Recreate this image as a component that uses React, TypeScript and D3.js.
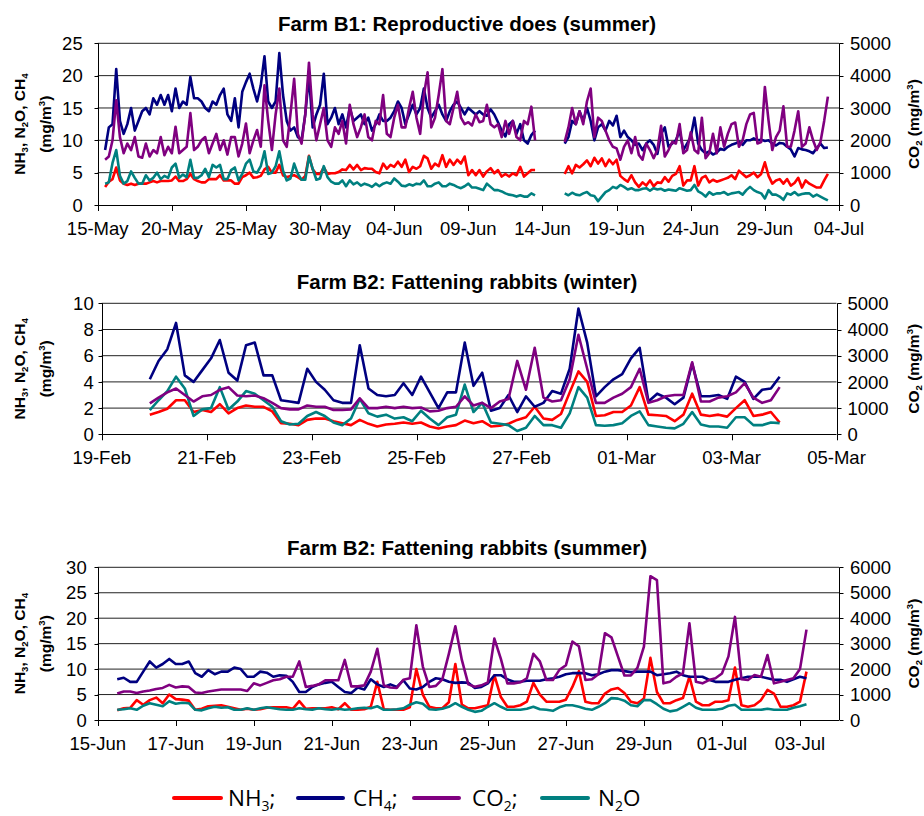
import React from "react";
import * as d3 from "d3";

const YEAR = 2009;
const FONT = "'Liberation Sans', Arial, Helvetica, sans-serif";
const LEGEND_FONT = "'Open Sans', 'Noto Sans', sans-serif";

const C_NH3 = "#ff0000";
const C_CH4 = "#000080";
const C_CO2 = "#800080";
const C_N2O = "#008080";

// ---------------- Panel 1: Farm B1, reproductive does (summer) ----------------
const B1_TITLE = "Farm B1: Reproductive does (summer)";
const B1_START = new Date(YEAR, 4, 15, 12);
const B1_STEP_H = 6;
const B1_X_DOMAIN = [new Date(YEAR, 4, 15), new Date(YEAR, 6, 4)];
const B1_X_TICKS = [
  new Date(YEAR, 4, 15), new Date(YEAR, 4, 20), new Date(YEAR, 4, 25), new Date(YEAR, 4, 30),
  new Date(YEAR, 5, 4), new Date(YEAR, 5, 9), new Date(YEAR, 5, 14), new Date(YEAR, 5, 19),
  new Date(YEAR, 5, 24), new Date(YEAR, 5, 29), new Date(YEAR, 6, 4),
];
const B1_Y_TICKS = [0, 5, 10, 15, 20, 25];
const B1_Y2_TICKS = [0, 1000, 2000, 3000, 4000, 5000];
const GAP7 = [null, null, null, null, null, null, null];

const B1_NH3 = [
  2.8, 3.6, 4.0, 5.8, 3.8, 3.3, 3.1, 3.3, 3.1, 3.3,
  3.3, 3.3, 3.5, 3.7, 3.5, 3.7, 3.7, 3.7, 3.8, 4.4,
  3.7, 3.7, 4.0, 4.8, 4.0, 3.7, 3.5, 3.5, 4.0, 4.0,
  4.0, 4.6, 3.8, 3.8, 3.8, 3.3, 3.3, 4.3, 4.6, 5.0,
  4.2, 4.3, 4.5, 5.5, 5.9, 5.0, 5.0, 6.2, 4.6, 4.3,
  4.5, 4.6, 4.3, 3.9, 4.5, 7.6, 5.5, 4.8, 4.8, 5.8,
  4.8, 4.9, 4.9, 5.1, 5.5, 5.4,
  6.2, 5.5, 6.2, 5.4, 5.7, 5.6, 5.6, 5.1, 4.9, 6.4,
  5.6, 6.2, 5.9, 6.7, 5.9, 7.0, 5.1, 5.9, 5.6, 6.0,
  7.6, 7.2, 5.6, 6.4, 6.0, 7.7, 5.9, 7.0, 6.2, 7.0,
  6.4, 7.5, 4.6, 5.4, 4.6, 5.4, 4.4, 5.2, 5.7, 4.9,
  5.4, 4.4, 4.8, 4.4, 4.9, 4.6, 5.9, 4.4, 4.9, 5.4, 5.4,
  ...GAP7,
  4.8, 6.0, 4.9, 6.2, 5.8, 6.3, 6.9, 6.0, 7.3, 6.4, 7.2, 6.0, 7.0, 6.3, 7.0,
  4.5, 4.0, 3.6, 4.6, 3.5, 2.8, 3.5, 3.0, 3.8, 2.9, 3.5, 3.4, 4.3, 3.6, 4.5,
  4.8, 6.0, 3.0, 3.8, 3.8, 6.0, 3.0, 4.2, 4.5, 3.5,
  3.9, 3.6, 3.8, 4.0, 4.2, 4.6, 4.0, 5.3, 4.8, 4.3, 4.6, 5.0, 4.3, 4.8, 6.6, 4.5,
  3.3, 3.8, 4.0, 3.3, 4.0, 3.0, 3.4, 4.2, 2.7, 3.8, 3.3, 3.0, 2.7, 2.7, 3.8, 4.8,
];
const B1_CH4 = [
  8.5, 12, 12.5, 21, 13, 11, 12.5, 15, 11.5, 13,
  14.5, 15, 14, 16.5, 15.5, 17, 15.5, 17, 14.5, 18,
  15, 16, 15.5, 19.8, 16.5, 16.5, 16, 15, 14.5, 16,
  15.5, 17, 18, 14, 13, 16.5, 12, 17.5, 19, 20.3,
  18, 16, 18.5, 23, 16, 15, 16, 23.5, 17, 13,
  11.5, 12, 10.5, 10, 14, 20, 12, 14, 15.5, 20.3,
  12.5, 13.5, 15, 12.5, 14, 12,
  15, 13, 13.5, 14, 12.5, 13.5, 11.5, 12.5, 14, 13,
  13, 13.5, 14.5, 16, 15, 12.5, 14, 15.5, 14, 15,
  18, 15, 13.5, 14.5, 15.5, 14, 13, 14.5, 15.5, 16,
  15, 14, 15, 14.5, 14, 14.5, 14, 13.8, 14.8, 14,
  12.8, 11.5, 10.6, 12.5, 13, 11, 12.5, 10, 9.5, 10.8, 11.5,
  ...GAP7,
  9.5, 10.5, 13, 12.5, 14.5, 13, 15, 13, 10, 12,
  12.5, 11.5, 13, 12.3, 13.8, 10.5, 11.5, 10.5, 10, 9.3,
  9.5, 8.5, 9.5, 10, 9.3, 7.9, 11, 12, 9, 9.5,
  10, 11.5, 8.5, 9.5, 10.5, 13.5, 9.5, 8.5, 8, 8.3,
  7.8, 8.1, 8.7, 8.5, 9, 9.3, 9.5, 9.8, 9.3, 10,
  10, 10.3, 10, 10.1, 9.9, 10, 9.5, 9.2, 9.6, 9.5,
  9.0, 8.6, 7.5, 8.8, 8.6, 8.5, 8.3, 8.0, 8.8, 9.5,
  8.8, 8.9,
];
const B1_CO2 = [
  1400, 1500, 2000, 3240, 2100, 1600, 1900, 1700, 2100, 1500,
  1460, 1900, 1500, 1700, 1600, 2100, 1540, 1800, 1600, 2420,
  1600, 1700, 1800, 2840, 1700, 1800, 2000, 2100, 1600, 1900,
  2200, 1700, 2000, 1560, 2100, 2100, 1500, 1900, 2520, 1600,
  2000, 2320, 1800, 3700, 2600, 1700, 2800, 3600, 2000, 1800,
  2800, 3900, 2200, 1900, 2800, 4400, 2800, 2000, 2500, 3000,
  2000, 1800, 2400, 2200, 2600, 1900,
  3100, 2500, 2100, 2400, 2800, 2100, 2000, 2600, 2500, 3400,
  2200, 2100, 2700, 3100, 2400, 2400, 3000, 3500, 2700, 2200,
  3400, 4100, 2400, 2700, 3400, 4200, 2600, 2500, 3000, 3500,
  2700, 2500, 2560, 2460, 2800, 2560, 2600, 3100, 2500, 2400,
  2500, 2100, 2600, 2200, 2600, 2100, 2000, 2600, 2500, 3040, 2000,
  ...GAP7,
  1950, 2400, 3000, 2500, 2900, 2500, 3200, 3600, 2100, 2700,
  2600, 2300, 2000, 1800, 1750, 1400, 1800, 2000, 1600, 2100,
  1550, 1400, 1900, 1700, 1450, 1700, 2450, 1500, 1700, 1950,
  1900, 2500, 1600, 1700, 2250, 1700, 1600, 2700, 1450, 1600,
  2200, 1600, 2400, 1800, 2200, 2500, 2550, 1800, 2000, 2500,
  2800, 2850, 1900, 1950, 3650, 2600, 1700, 2100, 2300, 3050,
  1800, 1800, 2300, 2900, 1800, 1900, 2400, 2000, 1700, 1950,
  2600, 3350,
];
const B1_N2O = [
  3.3, 3.5, 6.5, 8.5, 4.5, 3.3, 3.7, 5.2, 4.2, 3.3,
  3.3, 4.6, 3.8, 4.2, 5.0, 4.0, 4.5, 4.2, 5.8, 6.4,
  4.2, 4.7, 4.3, 7.0, 4.2, 4.2, 4.6, 5.6, 4.3, 6.2,
  5.8, 6.2, 4.0, 4.0, 5.4, 5.8, 3.8, 4.8, 6.4, 7.0,
  5.2, 5.0, 6.0, 8.3, 4.8, 5.0, 6.0, 8.3, 5.3, 3.8,
  4.1, 6.4, 4.8, 3.9, 3.9, 7.5, 5.6, 3.9, 4.1, 6.0,
  4.3, 3.6, 3.3, 3.3, 3.8, 2.9,
  3.8, 3.2, 3.5, 3.0, 3.3, 3.1, 2.8, 3.3, 2.9, 3.3,
  3.5, 3.3, 4.1, 3.6, 3.0, 2.9, 3.2, 3.0, 3.3, 3.2,
  3.8, 2.9, 2.9, 3.3, 3.5, 2.9, 2.9, 3.3, 3.1, 2.8,
  2.6, 2.9, 3.3, 2.7, 2.7, 2.5, 2.3, 3.3, 2.8, 2.3,
  2.3, 2.1, 1.8, 1.6, 1.5, 1.3, 1.5, 1.3, 1.3, 1.8, 1.5,
  ...GAP7,
  1.8, 1.5, 1.9, 1.6, 1.5, 1.8, 2.0, 1.5, 1.4, 0.6,
  1.3, 2.0, 2.3, 2.8, 2.6, 3.1, 2.8, 2.4, 2.6, 2.3,
  2.3, 2.5, 2.6, 2.2, 2.6, 2.4, 2.5, 2.2, 2.4, 2.3,
  2.2, 2.6, 2.4, 2.2, 2.3, 3.1, 2.1, 1.8, 1.3, 2.0,
  1.6, 1.8, 1.8, 2.0, 1.6, 1.8, 1.9, 2.0, 1.6, 2.3,
  2.8, 2.3, 2.0, 1.8, 1.0, 2.3, 1.6, 1.6, 1.3, 0.8,
  1.8, 1.6, 2.0, 1.5, 1.7, 1.8, 1.8, 1.3, 1.6, 1.3,
  1.0, 0.7,
];

// ---------------- Panel 2: Farm B2, fattening rabbits (winter) ----------------
const B2W_TITLE = "Farm B2: Fattening rabbits (winter)";
const B2W_START = new Date(YEAR, 1, 19, 22);
const B2W_STEP_H = 4;
const B2W_X_DOMAIN = [new Date(YEAR, 1, 19), new Date(YEAR, 2, 5)];
const B2W_X_TICKS = [
  new Date(YEAR, 1, 19), new Date(YEAR, 1, 21), new Date(YEAR, 1, 23), new Date(YEAR, 1, 25),
  new Date(YEAR, 1, 27), new Date(YEAR, 2, 1), new Date(YEAR, 2, 3), new Date(YEAR, 2, 5),
];
const B2W_Y_TICKS = [0, 2, 4, 6, 8, 10];
const B2W_Y2_TICKS = [0, 1000, 2000, 3000, 4000, 5000];
const B2W_NH3 = [
  1.5, 1.7, 1.95, 2.6, 2.6, 1.7, 1.85, 1.7, 2.3, 1.6,
  2.0, 2.2, 2.1, 2.1, 1.75, 0.85, 0.8, 0.7, 1.1, 1.2,
  1.2, 1.0, 0.85, 0.7, 1.1, 0.8, 0.6, 0.75, 0.8, 0.9,
  0.8, 0.9, 0.6, 0.45, 0.6, 0.7, 1.05, 0.85, 1.0, 0.6,
  0.65, 0.8, 1.1, 1.3, 2.1, 1.2, 1.1, 1.55, 3.2, 4.8,
  4.0, 1.4, 1.45, 1.7, 1.7, 2.2, 3.6, 1.5, 1.45, 1.4,
  1.0, 1.5, 3.1, 1.5, 1.4, 1.5, 1.35, 2.0, 2.6, 1.4,
  1.5, 1.7, 0.9,
];
const B2W_CH4 = [
  4.2, 5.6, 6.5, 8.5, 4.5, 4.0, 4.9, 5.8, 7.2, 4.7,
  4.1, 6.8, 7.0, 4.5, 4.5, 2.6, 2.5, 2.4, 5.0, 4.0,
  3.4, 2.6, 2.4, 2.4, 6.8, 3.5, 3.0, 2.9, 3.0, 3.9,
  3.0, 4.4, 3.2, 2.0, 3.2, 3.2, 7.0, 3.7, 4.7, 1.8,
  2.0, 3.0, 1.7, 2.9, 2.1, 2.4, 3.3, 3.1, 5.0, 9.6,
  7.0, 2.9, 3.6, 4.2, 4.6, 5.8, 6.6, 2.5, 3.1, 2.8,
  2.3, 2.8, 5.4, 2.9, 2.9, 3.0, 2.7, 4.4, 4.0, 2.7,
  3.4, 3.5, 4.4,
];
const B2W_CO2 = [
  1180, 1400, 1600, 1750, 1500, 1250, 1450, 1500, 1700, 1800,
  1480, 1450, 1480, 1380, 1200, 1000, 950, 950, 1100, 1050,
  1050, 925, 925, 950, 1375, 1000, 1000, 1050, 1000, 1050,
  1000, 1025, 875, 900, 1000, 1050, 1450, 1100, 1200, 1000,
  1250, 1350, 2800, 1700, 3300, 1400, 1250, 1300, 2100, 3800,
  2500, 1200, 1200, 1400, 1550, 1800, 2500, 1200, 1300, 1450,
  1500, 1500, 2750, 1250, 1250, 1400, 1450, 1600, 1950, 1400,
  1200, 1300, 1800,
];
const B2W_N2O = [
  1.85, 2.6, 3.3, 4.4, 3.5, 1.4, 1.9, 2.0, 3.6, 1.9,
  2.5, 3.3, 3.1, 2.6, 2.1, 1.0, 0.75, 0.8, 1.4, 1.7,
  1.4, 0.9, 0.7, 1.2, 2.7, 1.6, 1.35, 1.5, 1.2, 1.3,
  1.0, 1.8, 1.2, 0.7, 1.3, 1.5, 3.8, 1.7, 2.4, 0.9,
  0.8, 0.7, 0.25, 0.5, 1.4, 0.7, 0.7, 0.5, 1.6, 3.6,
  2.8, 0.7, 0.65, 0.7, 0.85, 1.4, 1.75, 0.7, 0.6, 0.5,
  0.45, 0.8, 1.7, 0.75, 0.6, 0.6, 0.5, 1.3, 1.3, 0.7,
  0.7, 0.9, 0.85,
];

// ---------------- Panel 3: Farm B2, fattening rabbits (summer) ----------------
const B2S_TITLE = "Farm B2: Fattening rabbits (summer)";
const B2S_START = new Date(YEAR, 5, 15, 12);
const B2S_STEP_H = 4;
const B2S_X_DOMAIN = [new Date(YEAR, 5, 15), new Date(YEAR, 6, 4)];
const B2S_X_TICKS = [
  new Date(YEAR, 5, 15), new Date(YEAR, 5, 17), new Date(YEAR, 5, 19), new Date(YEAR, 5, 21),
  new Date(YEAR, 5, 23), new Date(YEAR, 5, 25), new Date(YEAR, 5, 27), new Date(YEAR, 5, 29),
  new Date(YEAR, 6, 1), new Date(YEAR, 6, 3),
];
const B2S_Y_TICKS = [0, 5, 10, 15, 20, 25, 30];
const B2S_Y2_TICKS = [0, 1000, 2000, 3000, 4000, 5000, 6000];
const B2S_NH3 = [
  1.9, 2.3, 2.4, 3.9, 3.0, 3.9, 4.4, 3.3, 5.0, 4.1,
  4.0, 3.8, 2.0, 2.2, 2.7, 2.8, 2.9, 2.6, 2.3, 2.0,
  2.2, 2.0, 2.1, 2.4, 2.5, 2.5, 2.5, 2.2, 3.7, 2.2,
  2.3, 2.3, 2.3, 2.5, 2.1, 3.3, 2.0, 2.0, 2.1, 2.6,
  7.5, 2.1, 2.0, 2.0, 2.0, 2.5, 10.0, 5.0, 2.6, 2.3,
  2.3, 3.5, 11.0, 3.0, 2.3, 2.3, 2.6, 2.9, 8.8, 4.5,
  2.6, 2.6, 2.9, 3.6, 7.3, 5.0, 3.6, 3.6, 3.6, 4.0,
  6.5, 9.6, 3.6, 3.3, 3.3, 5.2, 6.0, 6.3, 5.3, 3.6,
  3.3, 4.2, 12.2, 5.5, 3.3, 3.3, 3.9, 4.3, 8.5, 3.6,
  2.9, 2.9, 3.6, 3.6, 3.9, 10.3, 2.9, 2.6, 2.9, 3.9,
  5.9, 5.2, 2.6, 2.6, 2.9, 3.6, 9.5,
];
const B2S_CH4 = [
  8.0, 8.3, 7.5, 7.5, 9.5, 11.5, 10.3, 11.0, 12.0, 11.0,
  11.0, 11.5, 9.2, 8.5, 9.8, 9.0, 9.5, 9.5, 10.3, 10.0,
  8.5, 8.5, 9.5, 9.3, 8.5, 8.8, 8.7, 7.5, 5.5, 5.5,
  6.5, 7.0, 7.3, 7.5, 6.5, 5.5, 5.3, 6.4, 6.0, 8.0,
  7.0, 6.5, 7.0, 6.5, 7.8, 6.2, 6.0, 6.5, 7.5, 8.2,
  8.0, 7.5, 7.3, 7.4, 7.3, 6.3, 6.5, 7.2, 8.8, 8.8,
  8.0, 7.5, 7.5, 7.7, 7.7, 7.7, 8.0, 8.2, 8.5, 9.0,
  9.2, 9.2, 9.2, 8.8, 9.0, 9.5, 9.8, 9.8, 9.6, 9.4,
  9.5, 9.5, 9.5, 8.8, 9.0, 9.2, 9.5, 8.8, 8.5, 8.5,
  8.5, 7.9, 7.5, 7.5, 7.5, 7.9, 8.2, 8.5, 8.5, 8.5,
  8.2, 7.9, 7.9, 7.5, 8.0, 8.5, 8.2,
];
const B2S_CO2 = [
  1040, 1120, 1120, 1060, 1120, 1160, 1220, 1260, 1380, 1280,
  1320, 1300, 1080, 1060, 1120, 1160, 1200, 1200, 1200, 1200,
  1140, 1440, 1360, 1460, 1560, 1600, 1700, 1700, 2300, 1300,
  1340, 1400, 1560, 1560, 1560, 2360, 1320, 1320, 1360, 1900,
  2800, 1360, 1280, 1260, 1580, 1640, 3720, 2100, 1300, 1340,
  1600, 2600, 3680, 2360, 1400, 1310, 1360, 1480, 3200, 2400,
  1440, 1440, 1480, 1640, 2600, 2300, 1570, 1570, 1970, 2150,
  3080, 2900, 1570, 1600, 1800, 3410, 3250, 2500, 1750, 1750,
  2050, 2880, 5650, 5500, 1440, 1500, 1700, 1830, 3800, 1500,
  1440, 1570, 1640, 1830, 2500, 4050, 1600, 1570, 1770, 1700,
  2550, 1440, 1500, 1570, 1640, 2000, 3550,
];
const B2S_N2O = [
  2.0, 2.1, 2.3, 2.0, 2.8, 3.3, 3.0, 2.7, 3.7, 3.2,
  3.4, 3.3, 2.0, 1.9, 2.3, 2.6, 2.4, 2.5, 2.0, 2.0,
  2.3, 2.0, 2.3, 2.5, 2.3, 2.1, 2.0, 2.0, 2.3, 2.1,
  2.0, 2.3, 2.1, 2.0, 2.2, 2.0, 2.1, 2.3, 2.4, 2.3,
  2.7, 2.0, 2.0, 2.1, 2.3, 3.0, 3.5, 3.2, 2.1, 2.0,
  2.2, 2.6, 3.3, 2.6, 2.0, 1.6, 1.8, 2.6, 3.3, 2.6,
  2.0, 2.0, 2.0, 2.2, 2.6, 2.1, 2.0, 1.8, 2.5, 2.9,
  2.9, 2.6, 2.2, 2.0, 2.6, 3.3, 4.3, 4.2, 3.8, 2.9,
  2.7, 3.9, 3.9, 3.1, 2.2, 1.7, 1.9, 2.6, 3.3, 2.4,
  2.0, 2.0, 2.0, 2.2, 2.8, 3.0, 2.0, 2.0, 2.0, 2.0,
  2.2, 2.0, 2.0, 2.0, 2.4, 2.7, 3.1,
];

// ---------------- Legend ----------------
const LEGEND_ITEMS = [
  { label: [{ t: "NH" }, { t: "3", sub: true }, { t: ";" }], color: C_NH3 },
  { label: [{ t: "CH" }, { t: "4", sub: true }, { t: ";" }], color: C_CH4 },
  { label: [{ t: "CO" }, { t: "2", sub: true }, { t: ";" }], color: C_CO2 },
  { label: [{ t: "N" }, { t: "2", sub: true }, { t: "O" }], color: C_N2O },
];

type Seg = { t: string; sub?: boolean; sup?: boolean };

const LEFT_TITLE_1: Seg[] = [
  { t: "NH" }, { t: "3", sub: true }, { t: ", N" }, { t: "2", sub: true },
  { t: "O, CH" }, { t: "4", sub: true },
];
const UNIT: Seg[] = [{ t: "(mg/m" }, { t: "3", sup: true }, { t: ")" }];
const RIGHT_TITLE: Seg[] = [
  { t: "CO" }, { t: "2", sub: true }, { t: " (mg/m" }, { t: "3", sup: true }, { t: ")" },
];

function Rich({ segs, size }: { segs: Seg[]; size: number }) {
  return (
    <>
      {segs.map((s, k) => {
        const shift = s.sub ? -size * 0.22 : s.sup ? size * 0.38 : 0;
        return (
          <tspan key={k} baselineShift={shift ? shift : undefined} fontSize={s.sub || s.sup ? size * 0.62 : size}>
            {s.t}
          </tspan>
        );
      })}
    </>
  );
}

type PanelProps = {
  title: string;
  titleY: number;
  box: { l: number; r: number; t: number; b: number };
  xDomain: Date[];
  xTicks: Date[];
  yTicks: number[];
  y2Ticks: number[];
  start: Date;
  stepH: number;
  nh3: (number | null)[];
  ch4: (number | null)[];
  co2: (number | null)[];
  n2o: (number | null)[];
  leftLabelGap: number;
};

const fmt = d3.timeFormat("%d-%b");

function Panel(p: PanelProps) {
  const { l, r, t, b } = p.box;
  const x = d3.scaleTime().domain(p.xDomain).range([l, r]);
  const y = d3.scaleLinear().domain([0, d3.max(p.yTicks)!]).range([b, t]);
  const y2 = d3.scaleLinear().domain([0, d3.max(p.y2Ticks)!]).range([b, t]);
  const tAt = (i: number) => new Date(p.start.getTime() + i * p.stepH * 3600 * 1000);
  const mk = (sc: d3.ScaleLinear<number, number>) =>
    d3
      .line<number | null>()
      .defined((v) => v != null)
      .x((_, i) => x(tAt(i)))
      .y((v) => sc(v as number));
  const lineL = mk(y);
  const lineR = mk(y2);
  const crisp = (v: number) => Math.round(v) + 0.5;
  const mid = (t + b) / 2;
  const SW = 2.6;
  return (
    <g>
      <text x={467} y={p.titleY} textAnchor="middle" fontFamily={FONT} fontWeight="bold" fontSize={20.5}>
        {p.title}
      </text>
      {p.yTicks.slice(1).map((v) => (
        <line key={"g" + v} x1={l} x2={r} y1={y(v)} y2={y(v)} stroke="#222" strokeWidth={1} />
      ))}
      {/* axes */}
      <line x1={crisp(l)} x2={crisp(l)} y1={t} y2={b} stroke="#000" />
      <line x1={crisp(r)} x2={crisp(r)} y1={t} y2={b} stroke="#000" />
      <line x1={l} x2={r} y1={crisp(b)} y2={crisp(b)} stroke="#000" />
      {p.yTicks.map((v) => (
        <g key={"yl" + v}>
          <line x1={crisp(l) - 4} x2={crisp(l)} y1={crisp(y(v))} y2={crisp(y(v))} stroke="#000" />
          <text x={l - p.leftLabelGap} y={y(v)} dy="0.36em" textAnchor="end" fontFamily={FONT} fontSize={18.5}>
            {v}
          </text>
        </g>
      ))}
      {p.y2Ticks.map((v) => (
        <g key={"yr" + v}>
          <line x1={crisp(r)} x2={crisp(r) + 4} y1={crisp(y2(v))} y2={crisp(y2(v))} stroke="#000" />
          <text x={r + 11} y={y2(v)} dy="0.36em" textAnchor="start" fontFamily={FONT} fontSize={18.5}>
            {v}
          </text>
        </g>
      ))}
      {p.xTicks.map((d) => (
        <g key={"xt" + d.getTime()}>
          <line x1={crisp(x(d))} x2={crisp(x(d))} y1={b} y2={b + 6} stroke="#000" />
          <text x={x(d)} y={b + 30} textAnchor="middle" fontFamily={FONT} fontSize={18.5}>
            {fmt(d)}
          </text>
        </g>
      ))}
      {/* axis titles */}
      <text transform={`translate(25,${mid}) rotate(-90)`} textAnchor="middle"
        fontFamily={FONT} fontWeight="bold" fontSize={15.5}>
        <Rich segs={LEFT_TITLE_1} size={15.5} />
      </text>
      <text transform={`translate(51,${mid}) rotate(-90)`} textAnchor="middle"
        fontFamily={FONT} fontWeight="bold" fontSize={15.5}>
        <Rich segs={UNIT} size={15.5} />
      </text>
      <text transform={`translate(919,${mid}) rotate(-90)`} textAnchor="middle"
        fontFamily={FONT} fontWeight="bold" fontSize={15.5}>
        <Rich segs={RIGHT_TITLE} size={15.5} />
      </text>
      {/* series */}
      <path d={lineL(p.nh3) || ""} fill="none" stroke={C_NH3} strokeWidth={SW} strokeLinejoin="round" />
      <path d={lineL(p.ch4) || ""} fill="none" stroke={C_CH4} strokeWidth={SW} strokeLinejoin="round" />
      <path d={lineL(p.n2o) || ""} fill="none" stroke={C_N2O} strokeWidth={SW} strokeLinejoin="round" />
      <path d={lineR(p.co2) || ""} fill="none" stroke={C_CO2} strokeWidth={SW} strokeLinejoin="round" />
    </g>
  );
}

const LEGEND_POS = [
  { x1: 174, x2: 221, tx: 228 },
  { x1: 298, x2: 343, tx: 353 },
  { x1: 414, x2: 459, tx: 472 },
  { x1: 542, x2: 588, tx: 598 },
];

export default function App() {
  return (
    <svg width={924} height={816} style={{ display: "block", position: "absolute", left: 0, top: 0, background: "#fff" }}>
      <rect width={924} height={816} fill="#fff" />
      <Panel
        title={B1_TITLE} titleY={31} box={{ l: 97.7, r: 839, t: 43.3, b: 205 }}
        xDomain={B1_X_DOMAIN} xTicks={B1_X_TICKS} yTicks={B1_Y_TICKS} y2Ticks={B1_Y2_TICKS}
        start={B1_START} stepH={B1_STEP_H} nh3={B1_NH3} ch4={B1_CH4} co2={B1_CO2} n2o={B1_N2O}
        leftLabelGap={15}
      />
      <Panel
        title={B2W_TITLE} titleY={289} box={{ l: 101.7, r: 836.5, t: 303.3, b: 434.3 }}
        xDomain={B2W_X_DOMAIN} xTicks={B2W_X_TICKS} yTicks={B2W_Y_TICKS} y2Ticks={B2W_Y2_TICKS}
        start={B2W_START} stepH={B2W_STEP_H} nh3={B2W_NH3} ch4={B2W_CH4} co2={B2W_CO2} n2o={B2W_N2O}
        leftLabelGap={8}
      />
      <Panel
        title={B2S_TITLE} titleY={555} box={{ l: 97.7, r: 839, t: 567.3, b: 720 }}
        xDomain={B2S_X_DOMAIN} xTicks={B2S_X_TICKS} yTicks={B2S_Y_TICKS} y2Ticks={B2S_Y2_TICKS}
        start={B2S_START} stepH={B2S_STEP_H} nh3={B2S_NH3} ch4={B2S_CH4} co2={B2S_CO2} n2o={B2S_N2O}
        leftLabelGap={11}
      />
      {LEGEND_ITEMS.map((it, k) => (
        <g key={k}>
          <line x1={LEGEND_POS[k].x1} x2={LEGEND_POS[k].x2} y1={798} y2={798} stroke={it.color}
            strokeWidth={4} strokeLinecap="round" />
          <text x={LEGEND_POS[k].tx} y={806} fontFamily={LEGEND_FONT} fontSize={22.5}>
            <Rich segs={it.label} size={22.5} />
          </text>
        </g>
      ))}
    </svg>
  );
}
